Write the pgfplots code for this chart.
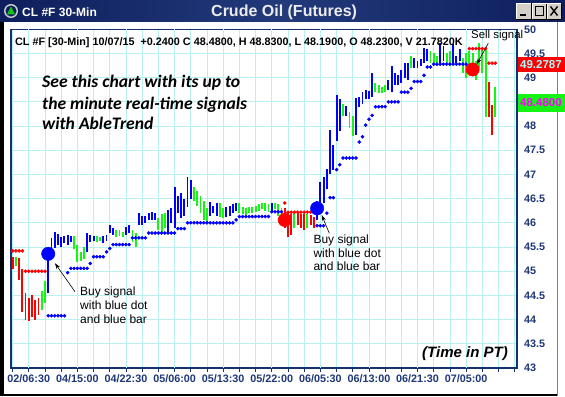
\documentclass[border=0pt]{standalone}
\usepackage{pgfplots}
\pgfplotsset{compat=1.18}
\usepackage{pgfplotstable}
\usepackage{fontspec}
\setmainfont{Liberation Sans}
\newfontfamily\carlito{Carlito}
\usetikzlibrary{arrows.meta}

\definecolor{barblue}{RGB}{0,0,255}
\definecolor{bargreen}{RGB}{20,245,20}
\definecolor{barred}{RGB}{255,0,0}
\definecolor{gridc}{RGB}{185,240,240}
\definecolor{navy}{RGB}{30,55,120}
\definecolor{framec}{RGB}{20,50,110}
\definecolor{titleL}{RGB}{14,30,92}
\definecolor{titleM}{RGB}{34,58,122}
\definecolor{titleR}{RGB}{14,30,92}
\definecolor{btn}{RGB}{212,208,200}
\definecolor{boxtxt}{RGB}{170,255,255}
\definecolor{magtxt}{RGB}{255,0,255}

\pgfplotstableread{
i lo hi
11 44.56 45.44
12 45.30 45.68
13 45.48 45.82
14 45.55 45.76
15 45.50 45.70
16 45.58 45.72
17 45.55 45.75
18 45.60 45.72
23 45.40 45.78
24 45.60 45.75
25 45.62 45.72
28 45.58 45.72
29 45.62 45.75
30 45.78 45.95
31 45.75 45.90
35 45.75 45.92
36 45.80 45.95
39 45.96 46.20
40 45.95 46.15
41 46.00 46.15
42 46.05 46.20
43 46.06 46.22
44 46.06 46.20
48 45.80 46.27
49 46.00 46.30
50 45.90 46.75
51 46.20 46.55
52 46.10 46.62
53 46.15 46.50
54 46.32 46.95
55 46.50 46.88
61 46.15 46.43
62 46.20 46.35
63 46.15 46.40
66 46.12 46.32
67 46.15 46.35
68 46.20 46.38
69 46.25 46.42
80 46.25 46.40
94 46.05 46.45
95 46.30 46.85
96 46.40 46.95
97 46.70 47.12
98 47.00 47.92
99 47.10 47.60
100 47.70 48.64
101 47.90 48.55
103 48.20 48.42
106 47.82 48.58
107 48.40 48.60
108 48.45 48.70
109 48.55 48.74
110 48.55 48.72
111 48.60 49.10
116 48.75 48.95
117 48.70 49.25
118 48.85 49.10
119 48.85 49.05
120 48.90 49.15
121 49.00 49.30
122 48.95 49.30
124 49.20 49.40
125 49.20 49.35
126 49.25 49.38
127 49.30 49.62
128 49.35 49.60
132 49.30 49.72
133 49.35 49.65
136 49.30 49.70
137 49.30 49.45
138 49.35 49.60
}\bluebars

\pgfplotstableread{
i lo hi
1 45.10 45.30
9 44.20 44.60
10 44.35 44.80
19 45.45 45.72
20 45.20 45.55
21 45.22 45.40
22 45.25 45.50
26 45.60 45.72
27 45.62 45.70
32 45.70 45.85
33 45.72 45.85
34 45.70 45.82
37 45.60 45.85
38 45.50 45.80
45 45.85 46.10
46 45.82 46.18
47 45.90 46.20
56 46.45 46.75
57 46.35 46.65
58 46.20 46.55
59 46.05 46.45
60 46.00 46.30
64 46.12 46.40
65 46.10 46.30
70 46.20 46.40
71 46.18 46.32
72 46.15 46.30
73 46.20 46.33
74 46.20 46.32
75 46.22 46.35
76 46.25 46.38
77 46.28 46.40
78 46.25 46.42
79 46.22 46.38
81 46.28 46.42
82 46.15 46.38
83 46.12 46.30
87 45.90 46.20
91 45.90 46.18
102 48.20 48.45
104 47.95 48.30
105 47.80 48.20
112 48.70 48.90
113 48.68 48.85
114 48.68 48.80
115 48.70 48.85
123 49.20 49.45
129 49.30 49.55
130 49.30 49.50
131 49.30 49.45
134 49.30 49.50
135 49.25 49.55
139 49.10 49.40
140 49.00 49.50
141 49.15 49.55
142 49.05 49.50
143 48.95 49.35
144 49.20 49.72
145 49.10 49.60
146 48.19 49.57
149 48.19 48.81
}\greenbars

\pgfplotstableread{
i lo hi
0 45.05 45.30
2 44.82 45.28
3 44.15 45.05
4 44.00 44.55
5 43.98 44.45
6 44.05 44.50
7 44.00 44.40
8 44.10 44.45
84 45.90 46.30
85 45.70 46.20
86 45.75 46.18
88 45.95 46.20
89 45.90 46.18
90 45.85 46.18
92 45.95 46.17
93 45.90 46.12
147 48.19 48.91
148 47.82 48.44
}\redbars

\pgfplotstableread{
i p
11 44.08
12 44.08
13 44.08
14 44.08
15 44.08
16 44.08
17 44.97
18 45.06
19 45.06
20 45.06
21 45.06
22 45.06
23 45.06
24 45.16
25 45.30
26 45.30
27 45.30
28 45.30
29 45.40
30 45.47
31 45.55
32 45.55
33 45.55
34 45.55
35 45.55
36 45.55
37 45.69
38 45.69
39 45.69
40 45.69
41 45.69
42 45.79
43 45.79
44 45.79
45 45.79
46 45.79
47 45.79
48 45.79
49 45.79
50 45.79
51 45.88
52 45.88
53 45.88
54 46.00
55 46.00
56 46.00
57 46.00
58 46.00
59 46.00
60 46.00
61 46.00
62 46.00
63 46.00
64 46.00
65 46.00
66 46.00
67 46.00
68 46.00
69 46.06
70 46.13
71 46.13
72 46.13
73 46.13
74 46.13
75 46.13
76 46.13
77 46.13
78 46.13
79 46.13
80 46.23
81 46.23
82 46.23
83 46.23
94 45.94
95 45.94
96 45.94
97 46.20
98 46.52
99 46.52
100 47.10
101 47.20
102 47.34
103 47.34
104 47.34
105 47.34
106 47.34
107 47.67
108 47.78
109 48.02
110 48.14
111 48.22
112 48.40
113 48.40
114 48.40
115 48.40
116 48.50
117 48.50
118 48.50
119 48.50
120 48.70
121 48.70
122 48.70
123 48.78
124 48.92
125 48.92
126 48.92
127 49.05
128 49.22
129 49.22
130 49.28
131 49.28
132 49.28
133 49.28
134 49.28
135 49.28
136 49.28
137 49.28
138 49.28
139 49.28
140 49.28
}\bluestop

\pgfplotstableread{
i p
0 45.42
1 45.42
2 45.42
3 45.42
4 45.00
5 45.00
6 45.00
7 45.00
8 45.00
9 45.00
10 45.00
84 46.41
85 46.22
86 46.22
87 46.22
88 46.22
89 46.22
90 46.22
91 46.22
92 46.22
141 49.60
142 49.60
143 49.60
144 49.60
145 49.60
146 49.60
147 49.30
148 49.30
149 49.30
}\redstop

\begin{document}
\begin{tikzpicture}[x=1pt,y=1pt]
% page background
\fill[white] (0,0) rectangle (565,396);
\fill[black] (0,0) rectangle (4,374);
\fill[black] (0,0) rectangle (557,2);
\draw[gray, line width=0.8pt] (557.5,0) -- (557.5,374);

\begin{axis}[
  at={(11pt,28pt)}, anchor=south west,
  scale only axis, width=506pt, height=338.7pt,
  xmin=-0.49, xmax=155.7, ymin=43, ymax=50,
  axis background/.style={fill=white},
  axis line style={framec, line width=1.1pt},
  grid=major, major grid style={gridc, line width=0.8pt},
  xtick={0,5,...,155}, xticklabels={},
  extra x ticks={5,20,...,140},
  extra x tick labels={02/06:30,04/15:00,04/22:30,05/06:00,05/13:30,05/22:00,06/05:30,06/13:00,06/21:30,07/05:00},
  xtick pos=bottom, tick align=outside, major tick length=3.5pt,
  x tick style={framec, line width=0.8pt},
  ytick={43,43.5,44,44.5,45,45.5,46,46.5,47,47.5,48,48.5,49,49.5,50},
  yticklabels={43,43.5,44,44.5,45,45.5,46,46.5,47,47.5,48,,49,49.5,50},
  ytick pos=right, yticklabel pos=right, y tick style={draw=none},
  yticklabel style={anchor=west},
  ticklabel style={font=\fontsize{10.8}{12}\selectfont\bfseries, text=navy},
  /pgf/number format/assume math mode=true,
]
\addplot[draw=none, mark=none, forget plot, error bars/.cd, y dir=plus, y explicit, error mark=none,
  error bar style={draw=barblue, line width=1.9pt}]
  table[x=i, y=lo, y error expr=\thisrow{hi}-\thisrow{lo}] {\bluebars};
\addplot[draw=none, mark=none, forget plot, error bars/.cd, y dir=plus, y explicit, error mark=none,
  error bar style={draw=bargreen, line width=1.9pt}]
  table[x=i, y=lo, y error expr=\thisrow{hi}-\thisrow{lo}] {\greenbars};
\addplot[draw=none, mark=none, forget plot, error bars/.cd, y dir=plus, y explicit, error mark=none,
  error bar style={draw=barred, line width=1.9pt}]
  table[x=i, y=lo, y error expr=\thisrow{hi}-\thisrow{lo}] {\redbars};
\addplot[only marks, mark=*, mark size=1.6pt, color=barblue] table[x=i, y=p] {\bluestop};
\addplot[only marks, mark=*, mark size=1.6pt, color=barred] table[x=i, y=p] {\redstop};
\addplot[only marks, mark=*, mark size=6.7pt, color=barblue] coordinates {(11,45.36) (94,46.30)};
\addplot[only marks, mark=*, mark size=6.7pt, color=barred] coordinates {(84,46.06) (142,49.17)};
\end{axis}

% title bar
\shade[left color=titleL, right color=titleR, middle color=titleM] (0,374) rectangle (565,396);
\fill[gray!40] (11,385) circle (7);
\fill[titleL] (11,385) circle (5.6);
\fill[bargreen!80!black] (7,381.5) -- (11,389.5) -- (15,381.5) -- cycle;
\node[anchor=base west, inner sep=0, text=white, font=\bfseries\fontsize{12}{14}\selectfont] at (22,379.8) {CL \#F 30-Min};
\node[anchor=base west, inner sep=0, text=gray!15, font=\bfseries\fontsize{16}{18}\selectfont] at (211,379.8) {Crude Oil (Futures)};
\foreach \xa/\xb in {516/531, 532.5/546.5, 547.5/561}{
  \fill[btn] (\xa,377) rectangle (\xb,393);
  \draw[black, line width=0.6pt] (\xa,377) -- (\xb,377) -- (\xb,393);
  \draw[white, line width=0.6pt] (\xa,377) -- (\xa,393) -- (\xb,393);
}
\draw[black, line width=1.6pt] (519.5,381) -- (525.5,381);
\draw[black, line width=0.7pt] (535.5,380.5) rectangle (543.5,389.5);
\draw[black, line width=1.4pt] (535.5,389.2) -- (543.5,389.2);
\draw[black, line width=1.4pt] (550.5,380.5) -- (557.5,389.5);
\draw[black, line width=1.4pt] (550.5,389.5) -- (557.5,380.5);

% header text
\node[anchor=base west, inner sep=0, font=\bfseries\fontsize{10.8}{12}\selectfont] at (15,350)
  {CL \#F [30-Min] 10/07/15\ \ +0.2400 C 48.4800, H 48.8300, L 48.1900, O 48.2300, V 21.7820K};

% promo text
\begin{scope}[every node/.style={anchor=base west, inner sep=0, font=\carlito\bfseries\itshape\fontsize{17.6}{20}\selectfont}]
\node at (42,308.3) {See this chart with its up to};
\node at (42,286.7) {the minute real-time signals};
\node at (42,266) {with AbleTrend};
\end{scope}

% annotations
\begin{scope}[every node/.style={anchor=base west, inner sep=0, font=\fontsize{12}{14}\selectfont}]
\node at (80,100.3) {Buy signal};
\node at (80,86.7) {with blue dot};
\node at (80,72.7) {and blue bar};
\node at (313.3,152) {Buy signal};
\node at (313.3,138.3) {with blue dot};
\node at (313.3,125) {and blue bar};
\end{scope}
\node[anchor=base west, inner sep=0, font=\fontsize{11.4}{13}\selectfont] at (471,357.2) {Sell signal};
\draw[-{Stealth[length=6pt,width=4pt]}, line width=0.6pt] (75,104.3) -- (55,132.7);
\draw[-{Stealth[length=6pt,width=4pt]}, line width=0.6pt] (329.3,162.7) -- (321.7,181);
\draw[-{Stealth[length=6pt,width=4pt]}, line width=0.6pt] (488.3,352.7) -- (476.7,331.7);

\node[anchor=base east, inner sep=0, font=\bfseries\itshape\fontsize{15}{17}\selectfont] at (508,38.5) {(Time in PT)};

% price boxes
\fill[barred] (518,324.3) rectangle (565,339.3);
\node[anchor=base west, inner sep=0, text=boxtxt, font=\bfseries\fontsize{11.5}{13}\selectfont] at (520,327.6) {49.2787};
\fill[bargreen] (518,284.3) rectangle (565,302);
\node[anchor=base west, inner sep=0, text=magtxt, font=\bfseries\fontsize{11.5}{13}\selectfont] at (520,289) {48.4800};
\end{tikzpicture}
\end{document}
